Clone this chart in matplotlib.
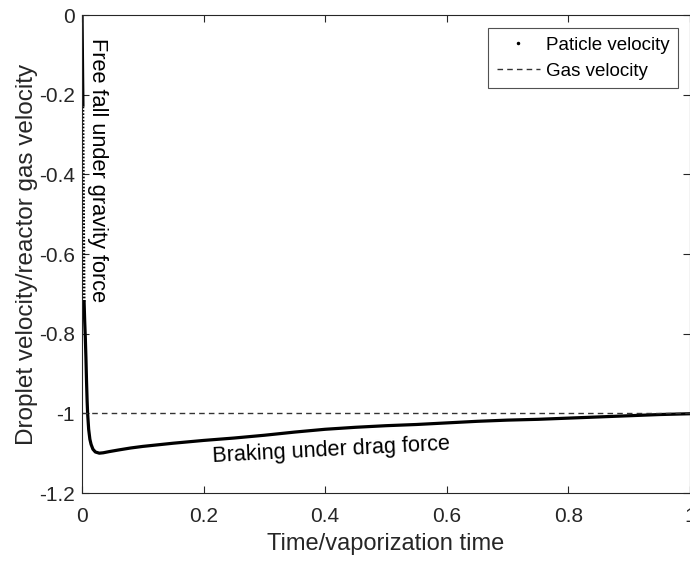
import matplotlib
matplotlib.use("Agg")
import matplotlib.pyplot as plt
from matplotlib.lines import Line2D

plt.rcParams['font.family'] = ['Liberation Sans', 'DejaVu Sans']
plt.rcParams['axes.unicode_minus'] = False

# Particle velocity
t_particle = [0.0, 0.0005, 0.001, 0.0015, 0.002, 0.0025, 0.003, 0.0035, 0.0045,
              0.0055, 0.0065, 0.0075, 0.0085, 0.0093, 0.011, 0.013, 0.015,
              0.018, 0.022, 0.0285, 0.035, 0.045, 0.06, 0.08, 0.1, 0.15, 0.2,
              0.25, 0.3, 0.35, 0.4, 0.45, 0.5, 0.55, 0.6, 0.65, 0.7, 0.75,
              0.8, 0.85, 0.9, 0.95, 1.0]
v_particle = [0.0, -0.08, -0.16, -0.23, -0.35, -0.47, -0.60, -0.72, -0.77,
              -0.81, -0.86, -0.92, -0.97, -1.0, -1.04, -1.065, -1.078,
              -1.090, -1.097, -1.100, -1.099, -1.096, -1.092, -1.087, -1.083,
              -1.075, -1.068, -1.062, -1.055, -1.047, -1.040, -1.035, -1.031,
              -1.028, -1.024, -1.020, -1.017, -1.015, -1.012, -1.009, -1.006,
              -1.003, -1.001]
# Gas velocity
t_gas = [0.0, 1.0]
v_gas = [-1.0, -1.0]

x_ticks = [0, 0.2, 0.4, 0.6, 0.8, 1]
x_tick_labels = ["0", "0.2", "0.4", "0.6", "0.8", "1"]
y_ticks = [0, -0.2, -0.4, -0.6, -0.8, -1, -1.2]
y_tick_labels = ["0", "-0.2", "-0.4", "-0.6", "-0.8", "-1", "-1.2"]

fig = plt.figure(figsize=(6.9, 5.61), dpi=100)
ax = fig.add_axes([0.1188, 0.1212, 0.8812, 0.852])

# segments: solid start, dotted free-fall, solid rest
ax.plot(t_particle[:4], v_particle[:4], color='black', lw=2.4, solid_capstyle='butt')
ax.plot(t_particle[3:8], v_particle[3:8], color='black', lw=2.0, ls=(0, (0.6, 0.6)))
ax.plot(t_particle[7:], v_particle[7:], color='black', lw=2.3)
ax.plot(t_gas, v_gas, color='#333333', lw=1.0, ls=(0, (4, 3)))

ax.set_xlim(0, 1)
ax.set_ylim(-1.2, 0)
ax.set_xticks(x_ticks)
ax.set_xticklabels(x_tick_labels)
ax.set_yticks(y_ticks)
ax.set_yticklabels(y_tick_labels)
ax.tick_params(direction='in', top=True, right=True, length=5, width=0.8,
               labelsize=15, colors='#262626', labelcolor='#262626')
ax.tick_params(axis='x', pad=10)
ax.tick_params(axis='y', pad=5)
for s in ax.spines.values():
    s.set_color('#262626')
    s.set_linewidth(0.8)

ax.set_xlabel("Time/vaporization time", fontsize=17, color='#262626')
ax.set_ylabel("Droplet velocity/reactor gas velocity", fontsize=17.5, color='#262626')
ax.xaxis.set_label_coords(0.5, -0.083)
ax.yaxis.set_label_coords(-0.072, 0.5)

ax.text(0.025, -0.057, "Free fall under gravity force", rotation=-90,
        fontsize=15.7, ha='center', va='top', color='black')
ax.text(0.2157, -1.122, "Braking under drag force", rotation=3,
        fontsize=15.6, ha='left', va='baseline', color='black', rotation_mode='anchor')

handles = [Line2D([], [], color='black', marker='.', markersize=3, ls='none'),
           Line2D([], [], color='#333333', lw=1.0, ls=(0, (4, 3)))]
leg = ax.legend(handles, ["Paticle velocity", "Gas velocity"], loc='upper right',
                bbox_to_anchor=(0.981, 0.972), fontsize=13.5, frameon=True, fancybox=False,
                edgecolor='#262626', handlelength=2.3, borderpad=0.45, labelspacing=0.45,
                handletextpad=0.35, borderaxespad=0)
leg.get_frame().set_linewidth(0.8)

fig.savefig("out.png", dpi=100)
